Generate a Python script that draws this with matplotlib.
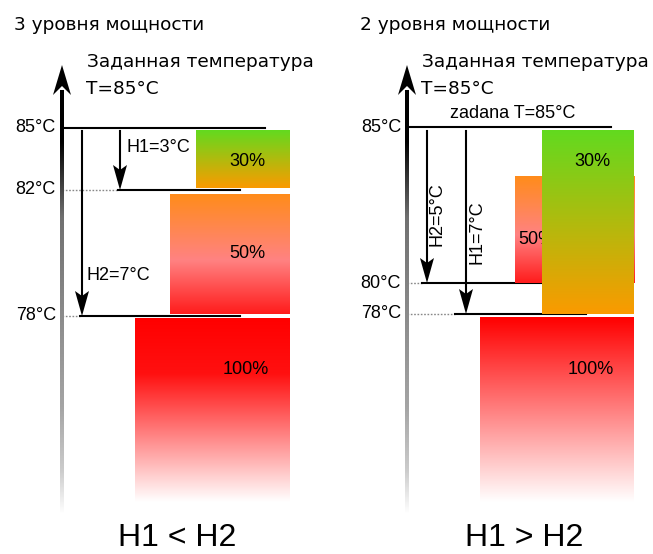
import numpy as np
import matplotlib.pyplot as plt
from matplotlib.colors import LinearSegmentedColormap
from matplotlib.patches import Polygon

# --- data ---
set_temp = 85
titles = ['3 уровня мощности', '2 уровня мощности']
setpoint_text = 'Заданная температура'
levels_left = [85, 82, 78]
levels_right = [85, 80, 78]
hyst_left = {'H1': 3, 'H2': 7}
hyst_right = {'H1': 7, 'H2': 5}
power = [30, 50, 100]
captions = ['H1 < H2', 'H1 > H2']

# --- layout (pixels, y grows downward) ---
W, H = 653, 554
panels = [
    dict(title_x=14, axis_x=62, text_x=87,
         rows={85: 128, 82: 190, 78: 316},
         lines={85: (None, 62, 265), 82: (118, 62, 240), 78: (80, 62, 240)},
         arrows={'H1': 120, 'H2': 82},
         hlabels={'H1': (127, 147, 0), 'H2': (87, 276, 0)},
         bars=[(30, 196, 290, 130, 188), (50, 170, 290, 194, 314), (100, 135, 290, 318, 502)],
         blabels={30: (247, 162, 'center'), 50: (247, 253, 'center'), 100: (246, 370, 'center')},
         fade=0.3, caption_x=177, levels=levels_left, hyst=hyst_left),
    dict(title_x=360, axis_x=407, text_x=422,
         rows={85: 127, 80: 283, 78: 314},
         lines={85: (None, 407, 611), 80: (422, 407, 600), 78: (455, 407, 586)},
         arrows={'H1': 466, 'H2': 427},
         hlabels={'H1': (477, 232, 90), 'H2': (437, 214, 90)},
         bars=[(50, 515, 635, 176, 283), (30, 542, 634, 130, 314), (100, 480, 634, 317, 502)],
         blabels={30: (592, 161, 'center'), 50: (518, 240, 'left'), 100: (591, 370, 'center')},
         fade=0.0, caption_x=524, levels=levels_right, hyst=hyst_right),
]

cmap30 = LinearSegmentedColormap.from_list('c30', [(0, '#62da1f'), (0.5, '#b0bb0e'), (1, '#fb9a00')])
cmap50 = LinearSegmentedColormap.from_list('c50', [(0, '#ff8c1a'), (0.55, '#ff8282'), (1, '#ff1c1c')])
cmap_axis = LinearSegmentedColormap.from_list(
    'ax', [(0, '#000000'), (0.12, '#000000'), (0.3, '#707070'), (0.75, '#a5a5a5'), (0.9, '#cccccc'), (1, '#ffffff')])

SANS = 'Liberation Sans'
DJ = 'DejaVu Sans'

fig = plt.figure(figsize=(W / 100, H / 100), dpi=100)
ax = fig.add_axes([0, 0, 1, 1])


def grad(x0, x1, top, bottom, cmap, z):
    img = np.linspace(0, 1, 256).reshape(-1, 1)
    ax.imshow(img, cmap=cmap, extent=(x0, x1, bottom, top), origin='upper',
              aspect='auto', zorder=z, interpolation='bilinear')


def head(x, tip, length, width, notch, up=False):
    s = -1 if up else 1
    pts = [(x, tip), (x - width / 2, tip - s * length), (x, tip - s * (length - notch)),
           (x + width / 2, tip - s * length)]
    ax.add_patch(Polygon(pts, closed=True, color='black', lw=0, zorder=6))


for p, title, caption in zip(panels, titles, captions):
    ax.text(p['title_x'], 30, title, family=DJ, fontsize=13.3, va='baseline')
    ax.text(p['text_x'], 67, setpoint_text, family=DJ, fontsize=13.3, va='baseline')
    ax.text(p['text_x'] - 1, 94, f'T={set_temp}°C', family=DJ, fontsize=13.3, va='baseline')

    # temperature axis with fading shaft
    axx = p['axis_x']
    grad(axx - 1.6, axx + 1.6, 90, 514, cmap_axis, 3)
    head(axx, 65, 30, 18, 9, up=True)

    # levels
    for t in p['levels']:
        y = p['rows'][t]
        ax.text(axx - 6, y, f'{t}°C', family=SANS, fontsize=13, ha='right', va='center')
        start, x0, x1 = p['lines'][t]
        if start is None:
            ax.plot([x0, x1], [y, y], color='black', lw=1.5, zorder=2)
        else:
            ax.plot([x0, start], [y, y], color='#888888', lw=1, ls=(0, (1.2, 1.2)), zorder=2)
            ax.plot([start, x1], [y, y], color='black', lw=1.5, zorder=2)

    # hysteresis arrows
    for name, x in p['arrows'].items():
        tip = p['rows'][set_temp - p['hyst'][name]]
        ax.plot([x, x], [131, tip - 18], color='black', lw=1.5, zorder=5)
        head(x, tip, 25, 14, 5)
        lx, ly, rot = p['hlabels'][name]
        ax.text(lx, ly, f'{name}={p["hyst"][name]}°C', family=SANS, fontsize=13,
                ha='left' if rot == 0 else 'center', va='center', rotation=rot, zorder=7)

    # power level bars
    cmap100 = LinearSegmentedColormap.from_list(
        'c100', [(0, '#ff0000'), (p['fade'] + 0.001, '#ff1010' if p['fade'] else '#ff0000'), (1, '#ffffff')])
    cmaps = {30: cmap30, 50: cmap50, 100: cmap100}
    for i, (pw, x0, x1, top, bottom) in enumerate(p['bars']):
        z = 10 + 2 * i
        grad(x0, x1, top, bottom, cmaps[pw], z)
        lx, ly, ha = p['blabels'][pw]
        ax.text(lx, ly, f'{pw}%', family=SANS, fontsize=13, ha=ha, va='center', zorder=z + 1)

    ax.text(p['caption_x'], 553, caption, family=SANS, fontsize=23, ha='center', va='bottom')

# extra setpoint label in the right panel
ax.text(450, 118, f'zadana T={set_temp}°C', family=SANS, fontsize=13, va='baseline')

ax.set_xlim(0, W)
ax.set_ylim(H, 0)
ax.axis('off')
fig.savefig('out.png', dpi=100)
